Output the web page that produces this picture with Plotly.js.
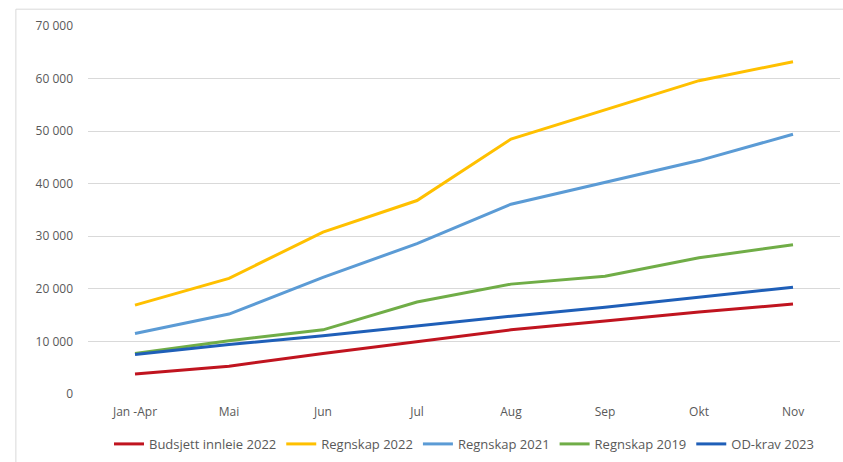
<!DOCTYPE html>
<html>
<head>
<meta charset="utf-8">
<script src="https://cdn.plot.ly/plotly-3.0.1.min.js"></script>
<style>
  html, body { margin: 0; padding: 0; background: #ffffff; }
  #chart { width: 843px; height: 462px; }
</style>
</head>
<body>
<div id="chart"></div>
<script>
// Cumulative figures per period
const periods = ["Jan -Apr", "Mai", "Jun", "Jul", "Aug", "Sep", "Okt", "Nov"];

const budsjettInnleie2022 = [3800, 5300, 7700, 10000, 12200, 13900, 15600, 17100];
const regnskap2022 = [16900, 22000, 30800, 36800, 48500, 54100, 59600, 63200];
const regnskap2021 = [11500, 15200, 22200, 28600, 36100, 40200, 44400, 49400];
const regnskap2019 = [7700, 10150, 12200, 17500, 20900, 22400, 25900, 28400];
const odKrav2023 = [7500, 9400, 11100, 13000, 14800, 16500, 18400, 20300];

const yTicks = [0, 10000, 20000, 30000, 40000, 50000, 60000, 70000];

function series(name, values, color) {
  return {
    type: "scatter",
    mode: "lines",
    name: name,
    x: periods,
    y: values,
    line: { color: color, width: 3 },
    hoverinfo: "x+y+name"
  };
}

const traces = [
  series("Budsjett innleie 2022", budsjettInnleie2022, "#c0141f"),
  series("Regnskap 2022", regnskap2022, "#ffc000"),
  series("Regnskap 2021", regnskap2021, "#5b9bd5"),
  series("Regnskap 2019", regnskap2019, "#70ad47"),
  series("OD-krav 2023", odKrav2023, "#1f5fb8")
];

const layout = {
  width: 843,
  height: 462,
  margin: { l: 88, r: 3, t: 26, b: 64 },
  paper_bgcolor: "#ffffff",
  plot_bgcolor: "#ffffff",
  separators: ", ",
  font: { family: "Open Sans, Liberation Sans, sans-serif", size: 11, color: "#595959" },
  xaxis: {
    type: "category",
    range: [-0.5, 7.5],
    showgrid: false,
    showline: false,
    zeroline: false,
    ticks: "",
    tickfont: { size: 12, color: "#595959" },
    ticklabelstandoff: 9
  },
  yaxis: {
    range: [0, 70000],
    tickvals: yTicks,
    tickformat: ",d",
    showgrid: true,
    gridcolor: "#d9d9d9",
    gridwidth: 1,
    zeroline: false,
    showline: false,
    ticks: "",
    tickfont: { size: 12, color: "#595959" },
    ticklabelstandoff: 14
  },
  showlegend: true,
  legend: {
    orientation: "h",
    x: 0.5,
    xanchor: "center",
    y: -0.095,
    yanchor: "top",
    font: { size: 13, color: "#595959" },
    itemwidth: 30,
    tracegroupgap: 0
  },
  shapes: [
    {
      type: "rect",
      xref: "paper",
      yref: "paper",
      x0: -0.0959,
      x1: 1.2,
      y0: -0.5,
      y1: 1.0457,
      line: { color: "#d9d9d9", width: 1 },
      fillcolor: "rgba(0,0,0,0)",
      layer: "below"
    }
  ]
};

Plotly.newPlot("chart", traces, layout, { displayModeBar: false, staticPlot: true });
</script>
</body>
</html>
